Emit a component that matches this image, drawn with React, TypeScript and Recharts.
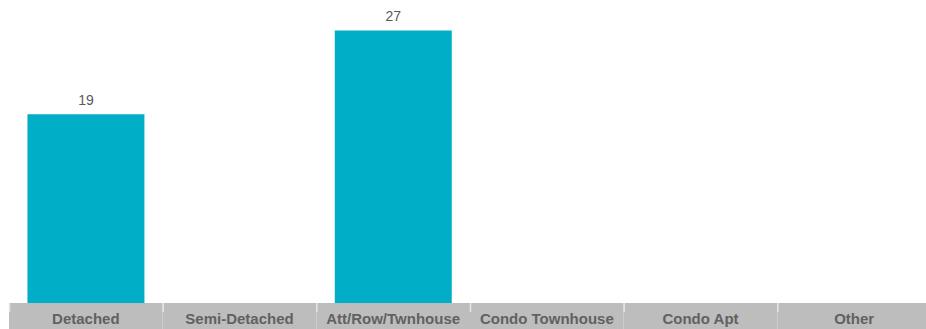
import { BarChart, Bar, XAxis, YAxis, LabelList } from "recharts";

const categories = [
  "Detached",
  "Semi-Detached",
  "Att/Row/Twnhouse",
  "Condo Townhouse",
  "Condo Apt",
  "Other",
];
const counts = [19, 0, 27, 0, 0, 0];

const data = categories.map((name, i) => ({ name, count: counts[i] }));

const CHART_W = 931;
const CHART_H = 329;
const LEFT = 9;
const BAND_W = (CHART_W - LEFT) / categories.length;
const BAND_TOP = 303;

function BandTick(props: any) {
  const { payload } = props;
  const cx = payload.coordinate;
  const x0 = cx - BAND_W / 2;
  return (
    <g>
      <rect x={x0} y={BAND_TOP} width={BAND_W} height={CHART_H - BAND_TOP} fill="#bdbdbd" />
      <line x1={x0 + 0.5} x2={x0 + 0.5} y1={BAND_TOP} y2={BAND_TOP + 9} stroke="#e6e6e6" strokeWidth={1.5} />
      <text
        x={cx}
        y={324}
        textAnchor="middle"
        fontFamily="'Liberation Sans', Arial, sans-serif"
        fontWeight="bold"
        fontSize={15}
        fill="#616161"
      >
        {payload.value}
      </text>
    </g>
  );
}

export default function App() {
  return (
    <div style={{ width: 926, height: 329, overflow: "hidden" }}>
      <style>{`body{margin:0}`}</style>
      <BarChart
        width={CHART_W}
        height={CHART_H}
        data={data}
        margin={{ top: 0, right: 0, left: LEFT, bottom: 0 }}
        barCategoryGap="12%"
      >
        <XAxis
          dataKey="name"
          height={15.5}
          axisLine={false}
          tickLine={false}
          interval={0}
          tick={<BandTick />}
        />
        <YAxis hide domain={[0, 29.9]} />
        <Bar dataKey="count" fill="#00aec7" isAnimationActive={false}>
          <LabelList
            dataKey="count"
            position="top"
            offset={9}
            fill="#595959"
            fontSize={14}
            fontFamily="'Liberation Sans', Arial, sans-serif"
            formatter={(v: any) => (v > 0 ? v : "")}
          />
        </Bar>
      </BarChart>
    </div>
  );
}
